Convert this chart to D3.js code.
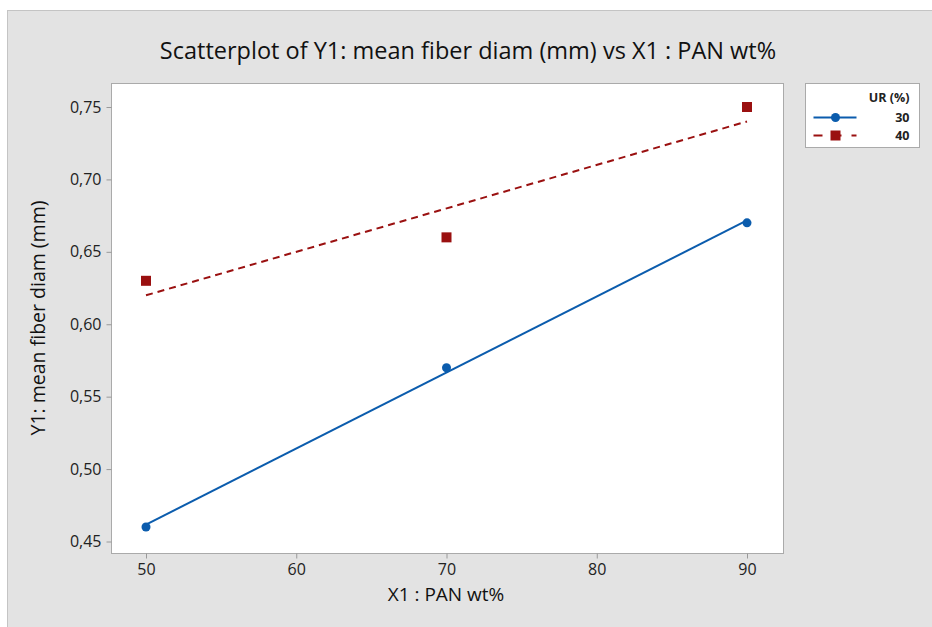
<!DOCTYPE html>
<html>
<head>
    <meta charset="utf-8">
    <title>Scatterplot Y1 vs X1</title>
    <script src="https://d3js.org/d3.v7.min.js"></script>
    <style>
        body { margin: 0; background: #fff; }
        svg { display: block; font-family: "Open Sans", "Noto Sans", sans-serif; }
        .tick line { stroke: #999; }
        .domain { display: none; }
    </style>
</head>
<body>
    <svg></svg>
    <script>
        // datos
        const xValues = [50, 70, 90];
        const ur30 = [0.46, 0.57, 0.67];
        const ur40 = [0.63, 0.66, 0.75];
        const groups = ["30", "40"];
        const xTicks = [50, 60, 70, 80, 90];
        const yTicks = [0.45, 0.50, 0.55, 0.60, 0.65, 0.70, 0.75];

        const width = 932, height = 627;
        const plot = { left: 111, top: 83, right: 783, bottom: 553 };

        const svg = d3.select("svg")
            .attr("width", width)
            .attr("height", height);

        // fondo gris del panel
        svg.append("rect")
            .attr("x", 7.5).attr("y", 10.5)
            .attr("width", width).attr("height", height)
            .attr("fill", "#e3e3e3")
            .attr("stroke", "#c4c4c4");

        const x = d3.scaleLinear().domain([50, 90]).range([146, 747]);
        const y = d3.scaleLinear().domain([0.45, 0.75]).range([541.5, 107]);

        svg.append("rect")
            .attr("x", plot.left + 0.5).attr("y", plot.top + 0.5)
            .attr("width", plot.right - plot.left).attr("height", plot.bottom - plot.top)
            .attr("fill", "#fff")
            .attr("stroke", "#aaa");

        const xAxis = svg.append("g")
            .attr("transform", `translate(0,${plot.bottom + 0.5})`)
            .call(d3.axisBottom(x).tickValues(xTicks).tickSize(5).tickPadding(4));
        xAxis.selectAll(".tick text").attr("dy", "0.75em");

        const yAxis = svg.append("g")
            .attr("transform", `translate(${plot.left + 0.5},0)`)
            .call(d3.axisLeft(y).tickValues(yTicks).tickSize(5).tickPadding(5)
                .tickFormat(d => d3.format(".2f")(d).replace(".", ",")));

        [xAxis, yAxis].forEach(a => a
            .attr("font-family", "'Open Sans', 'Noto Sans', sans-serif")
            .attr("font-size", 16)
            .selectAll(".tick text").attr("fill", "#222"));

        // títulos
        svg.append("text")
            .attr("x", 468).attr("y", 59)
            .attr("text-anchor", "middle")
            .attr("font-size", 23.5)
            .attr("fill", "#111")
            .text("Scatterplot of Y1: mean fiber diam (mm) vs X1 : PAN wt%");

        svg.append("text")
            .attr("x", 446).attr("y", 601)
            .attr("text-anchor", "middle")
            .attr("font-size", 19)
            .attr("fill", "#111")
            .text("X1 : PAN wt%");

        svg.append("text")
            .attr("transform", `translate(45,${(plot.top + plot.bottom) / 2}) rotate(-90)`)
            .attr("text-anchor", "middle")
            .attr("font-size", 19.5)
            .attr("fill", "#111")
            .text("Y1: mean fiber diam (mm)");

        // recta de regresión
        function fit(ys) {
            const mx = d3.mean(xValues), my = d3.mean(ys);
            const b = d3.sum(xValues, (v, i) => (v - mx) * (ys[i] - my)) /
                d3.sum(xValues, v => (v - mx) ** 2);
            return v => my + b * (v - mx);
        }

        const series = [
            { key: groups[0], ys: ur30, color: "#0b5cad", dash: null, shape: "circle" },
            { key: groups[1], ys: ur40, color: "#9a1010", dash: "7,5", shape: "square" }
        ];

        const g = svg.append("g");
        series.forEach(s => {
            const f = fit(s.ys);
            const ends = d3.extent(xValues);
            g.append("line")
                .attr("x1", x(ends[0])).attr("y1", y(f(ends[0])))
                .attr("x2", x(ends[1])).attr("y2", y(f(ends[1])))
                .attr("stroke", s.color)
                .attr("stroke-width", 2)
                .attr("stroke-dasharray", s.dash);

            const pts = g.selectAll(null).data(xValues.map((v, i) => [v, s.ys[i]]));
            if (s.shape === "circle") {
                pts.join("circle")
                    .attr("cx", d => x(d[0])).attr("cy", d => y(d[1]))
                    .attr("r", 4.5).attr("fill", s.color);
            } else {
                pts.join("rect")
                    .attr("x", d => x(d[0]) - 5).attr("y", d => y(d[1]) - 5)
                    .attr("width", 10).attr("height", 10).attr("fill", s.color);
            }
        });

        // leyenda
        const leg = svg.append("g").attr("transform", "translate(805.5,83.5)");
        leg.append("rect")
            .attr("width", 114).attr("height", 64)
            .attr("fill", "#fff").attr("stroke", "#aaa");
        leg.append("text")
            .attr("x", 104).attr("y", 18)
            .attr("text-anchor", "end")
            .attr("font-size", 12.5).attr("font-weight", "bold").attr("fill", "#222")
            .text("UR (%)");
        series.forEach((s, i) => {
            const ly = 34 + i * 18;
            leg.append("line")
                .attr("x1", 8).attr("x2", 51).attr("y1", ly).attr("y2", ly)
                .attr("stroke", s.color).attr("stroke-width", 2)
                .attr("stroke-dasharray", s.dash ? "9,10" : null);
            if (s.shape === "circle") {
                leg.append("circle").attr("cx", 30).attr("cy", ly).attr("r", 4.5).attr("fill", s.color);
            } else {
                leg.append("rect").attr("x", 25).attr("y", ly - 5)
                    .attr("width", 10).attr("height", 10).attr("fill", s.color);
            }
            leg.append("text")
                .attr("x", 104).attr("y", ly + 4)
                .attr("text-anchor", "end")
                .attr("font-size", 12.5).attr("font-weight", "bold").attr("fill", "#222")
                .text(s.key);
        });
    </script>
</body>
</html>
